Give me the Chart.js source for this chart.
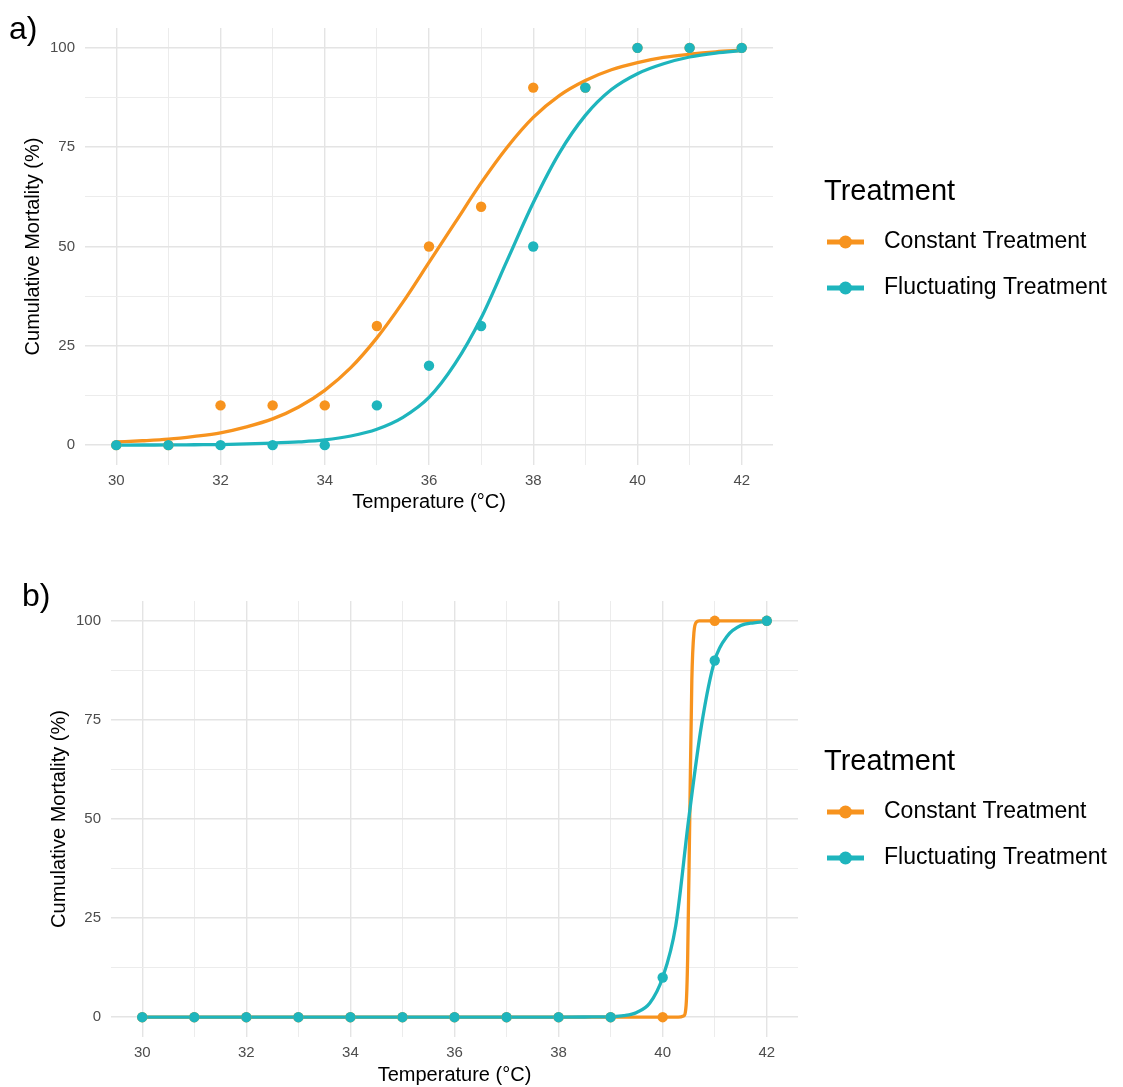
<!DOCTYPE html>
<html><head><meta charset="utf-8">
<script src="https://cdn.jsdelivr.net/npm/chart.js@4.4.1/dist/chart.umd.min.js"></script>
<style>
html,body{margin:0;padding:0;background:#fff;}
#wrap{position:relative;width:1123px;height:1087px;background:#fff;}
.pane{position:absolute;left:0;width:1123px;}
canvas{display:block;}
</style></head><body>
<div id="wrap">
<div class="pane" style="top:0;height:545px"><canvas id="ca" width="1123" height="545"></canvas></div>
<div class="pane" style="top:545px;height:542px"><canvas id="cb" width="1123" height="542"></canvas></div>
</div>
<script>
// ---------- data ----------
const seriesNames = ['Constant Treatment', 'Fluctuating Treatment'];
const legendTitle = 'Treatment';
const xTitle = 'Temperature (°C)';
const yTitle = 'Cumulative Mortality (%)';
const panelLabels = ['a)', 'b)'];

const temps = [30, 31, 32, 33, 34, 35, 36, 37, 38, 39, 40, 41, 42];
const xGrid = [30, 31, 32, 33, 34, 35, 36, 37, 38, 39, 40, 41, 42];
const yGrid = [0, 12.5, 25, 37.5, 50, 62.5, 75, 87.5, 100];

// panel a observed points
const constantA = [0, 0, 10, 10, 10, 30, 50, 60, 90, 90, 100, 100, 100];
const fluctA    = [0, 0, 0, 0, 0, 10, 20, 30, 50, 90, 100, 100, 100];
// panel a fitted curves
const curveXA = [30, 30.5, 31, 31.5, 32, 32.5, 33, 33.5, 34, 34.5, 35, 35.5, 36, 36.5, 37, 37.5, 38, 38.5, 39, 39.5, 40, 40.5, 41, 41.5, 42];
const constantCurveA = [0.8, 1.1, 1.5, 2.2, 3.1, 4.6, 6.6, 9.6, 13.8, 19.5, 27, 36, 46, 56, 66, 75, 82.5, 88, 91.8, 94.5, 96.3, 97.6, 98.4, 99, 99.4];
const fluctCurveA    = [0, 0.03, 0.05, 0.1, 0.15, 0.3, 0.5, 0.8, 1.3, 2.3, 4, 7, 12, 20.5, 32, 46.5, 61, 73.5, 83, 89.5, 93.5, 96, 97.7, 98.7, 99.3];

// panel b observed points
const constantB = [0, 0, 0, 0, 0, 0, 0, 0, 0, 0, 0, 100, 100];
const fluctB    = [0, 0, 0, 0, 0, 0, 0, 0, 0, 0, 10, 90, 100];
// panel b fitted curves
const constantCurveXB = [30, 39, 40, 40.3, 40.4, 40.45, 40.48, 40.52, 40.56, 40.6, 40.65, 40.7, 41, 42];
const constantCurveB  = [0, 0, 0, 0, 0.3, 3, 15, 50, 85, 97, 99.7, 100, 100, 100];
const fluctCurveXB = [30, 38, 38.5, 39, 39.25, 39.5, 39.75, 40, 40.25, 40.5, 40.75, 41, 41.25, 41.5, 41.75, 42];
const fluctCurveB  = [0, 0, 0.05, 0.15, 0.4, 1.2, 3.5, 10, 23, 50, 74, 90, 96.3, 98.8, 99.5, 99.8];

// ---------- style ----------
const COLORS = ['#F7931E', '#1EB5BD'];
const FONT = '"Liberation Sans", Arial, Helvetica, sans-serif';

function pts(xs, ys) { return xs.map((x, i) => ({x: x, y: ys[i]})); }

const overlay = {
  id: 'overlay',
  afterDraw(chart, args, o) {
    const ctx = chart.ctx;
    ctx.save();
    ctx.fillStyle = '#000';
    ctx.textAlign = 'left';
    ctx.textBaseline = 'middle';
    ctx.font = '32px ' + FONT;
    ctx.fillText(o.panel, o.panelX, o.panelY);
    ctx.font = '29px ' + FONT;
    ctx.fillText(legendTitle, o.legX, o.titleY);
    seriesNames.forEach((name, i) => {
      const y = o.itemY[i];
      ctx.strokeStyle = COLORS[i];
      ctx.lineWidth = 5;
      ctx.beginPath();
      ctx.moveTo(o.legX + 3, y);
      ctx.lineTo(o.legX + 40, y);
      ctx.stroke();
      ctx.fillStyle = COLORS[i];
      ctx.beginPath();
      ctx.arc(o.legX + 21.5, y, 6.5, 0, Math.PI * 2);
      ctx.fill();
      ctx.fillStyle = '#000';
      ctx.font = '23px ' + FONT;
      ctx.fillText(name, o.legX + 60, y);
    });
    ctx.restore();
  }
};

function makeChart(id, g, cPts, fPts, cCurve, fCurve) {
  return new Chart(document.getElementById(id), {
    type: 'scatter',
    data: {
      datasets: [
        {label: seriesNames[1], data: fPts, backgroundColor: COLORS[1], borderColor: COLORS[1], pointRadius: 5.2, pointBorderWidth: 0, showLine: false},
        {label: seriesNames[0], data: cPts, backgroundColor: COLORS[0], borderColor: COLORS[0], pointRadius: 5.2, pointBorderWidth: 0, showLine: false},
        {label: seriesNames[1] + ' fit', data: fCurve, borderColor: COLORS[1], backgroundColor: COLORS[1], showLine: true, pointRadius: 0, borderWidth: 3.3, cubicInterpolationMode: 'monotone'},
        {label: seriesNames[0] + ' fit', data: cCurve, borderColor: COLORS[0], backgroundColor: COLORS[0], showLine: true, pointRadius: 0, borderWidth: 3.3, cubicInterpolationMode: 'monotone'}
      ]
    },
    options: {
      responsive: false,
      animation: false,
      devicePixelRatio: 1,
      events: [],
      layout: {autoPadding: false, padding: {left: g.padLeft, right: g.padRight, top: g.padTop, bottom: g.padBottom}},
      plugins: {legend: {display: false}, tooltip: {enabled: false}, overlay: g.overlay},
      scales: {
        x: {
          type: 'linear', min: 29.4, max: 42.6,
          afterBuildTicks: (s) => { s.ticks = xGrid.map(v => ({value: v})); },
          afterFit: (s) => { s.height = g.xAxisH; },
          grid: {color: (c) => (c.tick && c.tick.value % 2 === 0) ? '#E4E4E4' : '#ECECEC',
                 lineWidth: (c) => (c.tick && c.tick.value % 2 === 0) ? 1.4 : 1.0, drawTicks: false},
          border: {display: false},
          ticks: {padding: 7, color: '#4D4D4D', font: {family: FONT, size: 15}, maxRotation: 0, autoSkip: false,
                  callback: (v) => (v % 2 === 0 ? String(v) : '')},
          title: {display: true, text: xTitle, color: '#000', font: {family: FONT, size: 20}, padding: {top: 0, bottom: g.xTitlePad}}
        },
        y: {
          type: 'linear', min: -5, max: 105,
          afterBuildTicks: (s) => { s.ticks = yGrid.map(v => ({value: v})); },
          afterFit: (s) => { s.width = g.yAxisW; },
          grid: {color: (c) => (c.tick && c.tick.value % 25 === 0) ? '#E4E4E4' : '#ECECEC',
                 lineWidth: (c) => (c.tick && c.tick.value % 25 === 0) ? 1.4 : 1.0, drawTicks: false},
          border: {display: false},
          ticks: {padding: 10, color: '#4D4D4D', font: {family: FONT, size: 15}, autoSkip: false,
                  callback: (v) => (v % 25 === 0 ? String(v) : '')},
          title: {display: true, text: yTitle, color: '#000', font: {family: FONT, size: 20}, padding: {top: g.yTitlePad, bottom: 0}}
        }
      }
    },
    plugins: [overlay]
  });
}

makeChart('ca', {
  padLeft: 15, yAxisW: 70, padRight: 350, padTop: 28, padBottom: 30, xAxisH: 50, xTitlePad: 1, yTitlePad: 6,
  overlay: {panel: panelLabels[0], panelX: 9, panelY: 30, legX: 824, titleY: 192, itemY: [242, 288]}
}, pts(temps, constantA), pts(temps, fluctA), pts(curveXA, constantCurveA), pts(curveXA, fluctCurveA));

makeChart('cb', {
  padLeft: 45, yAxisW: 66, padRight: 325, padTop: 56, padBottom: 0, xAxisH: 50, xTitlePad: 0, yTitlePad: 2,
  overlay: {panel: panelLabels[1], panelX: 22, panelY: 52, legX: 824, titleY: 217, itemY: [267, 313]}
}, pts(temps, constantB), pts(temps, fluctB), pts(constantCurveXB, constantCurveB), pts(fluctCurveXB, fluctCurveB));
</script>
</body></html>
